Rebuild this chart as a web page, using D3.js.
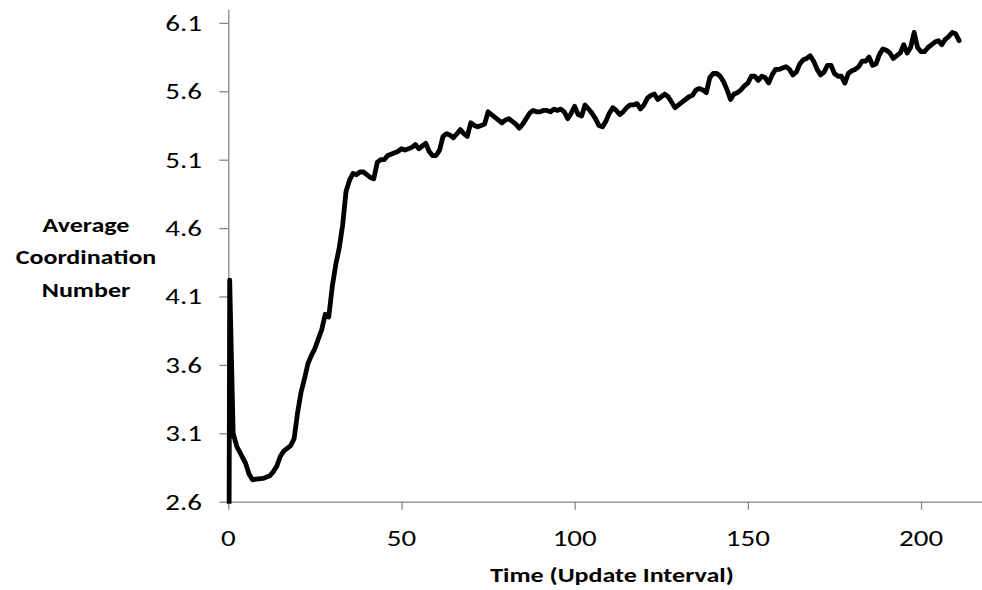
<!DOCTYPE html>
<html>
<head>
<meta charset="utf-8">
<script src="https://cdn.jsdelivr.net/npm/d3@7/dist/d3.min.js"></script>
<style>
  html, body { margin: 0; padding: 0; background: #fff; }
  svg { display: block; }
  text { font-family: Carlito, Lato, "Open Sans", sans-serif; fill: #000; }
</style>
</head>
<body>
<svg id="chart" width="982" height="590"></svg>
<script>
// ---- data ----
const times = [0,0.4,1.4,2.5,4,5,6,7,8,10,12,13,14,15,16,18,19,20,21,22,23,24,25,26,27,28,29,30,31,32,33,34,35,36,37,38,39,40,41,42,43,44,45,46,47,48,49,50,51,52,53,54,55,56,57,58,59,60,61,62,63,64,65,66,67,68,69,70,71,72,73,74,75,76,77,78,79,80,81,82,83,84,85,86,87,88,89,90,91,92,93,94,95,96,97,98,99,100,101,102,103,104,105,106,107,108,109,110,111,112,113,114,115,116,117,118,119,120,121,122,123,124,125,126,127,128,129,130,131,132,133,134,135,136,137,138,139,140,141,142,143,144,145,146,147,148,149,150,151,152,153,154,155,156,157,158,159,160,161,162,163,164,165,166,167,168,169,170,171,172,173,174,175,176,177,178,179,180,181,182,183,184,185,186,187,188,189,190,191,192,193,194,195,196,197,198,199,200,201,202,203,204,205,206,207,208,209,210,211];
const coordination = [0,4.22,3.10,3.00,2.93,2.88,2.80,2.76,2.765,2.77,2.79,2.82,2.86,2.93,2.97,3.01,3.06,3.25,3.40,3.50,3.61,3.67,3.72,3.79,3.86,3.97,3.95,4.17,4.33,4.45,4.62,4.87,4.95,5.00,4.99,5.01,5.01,4.99,4.97,4.96,5.08,5.10,5.10,5.13,5.14,5.15,5.16,5.18,5.17,5.18,5.19,5.21,5.18,5.20,5.22,5.16,5.13,5.13,5.17,5.27,5.29,5.28,5.26,5.29,5.32,5.29,5.27,5.37,5.35,5.34,5.35,5.36,5.45,5.43,5.41,5.39,5.37,5.39,5.40,5.38,5.36,5.33,5.36,5.40,5.44,5.46,5.45,5.45,5.46,5.46,5.45,5.47,5.46,5.47,5.45,5.40,5.44,5.49,5.43,5.42,5.50,5.47,5.44,5.40,5.35,5.34,5.38,5.44,5.48,5.46,5.43,5.45,5.48,5.50,5.50,5.51,5.47,5.50,5.55,5.57,5.58,5.54,5.56,5.58,5.56,5.52,5.48,5.50,5.52,5.54,5.56,5.57,5.61,5.62,5.61,5.59,5.70,5.73,5.73,5.71,5.67,5.61,5.54,5.58,5.59,5.61,5.64,5.66,5.71,5.71,5.68,5.71,5.70,5.66,5.72,5.76,5.76,5.77,5.78,5.76,5.72,5.74,5.80,5.83,5.84,5.86,5.82,5.76,5.72,5.74,5.79,5.79,5.73,5.71,5.71,5.66,5.73,5.75,5.76,5.78,5.82,5.82,5.85,5.79,5.80,5.87,5.91,5.90,5.88,5.84,5.86,5.88,5.94,5.88,5.92,6.03,5.92,5.89,5.89,5.92,5.94,5.96,5.97,5.94,5.98,6.00,6.03,6.02,5.97];
const xTicks = [0, 50, 100, 150, 200];
const yTicks = [2.6, 3.1, 3.6, 4.1, 4.6, 5.1, 5.6, 6.1];
const xDomain = [0, 217.6];
const yDomain = [2.6, 6.2];
const xTitle = "Time (Update Interval)";
const yTitleLines = ["Average", "Coordination", "Number"];

// ---- layout ----
const W = 982, H = 590;
const svg = d3.select("#chart");
const x = d3.scaleLinear().domain(xDomain).range([228.3, 982]);
const y = d3.scaleLinear().domain(yDomain).range([501.7, 9.2]);
const axisColor = "#868686";
const tickFont = 29, tickSY = 0.77;
const titleFont = 26, titleSY = 0.8;

// x axis (lines only; labels drawn below)
const gx = svg.append("g").attr("transform", `translate(0,${y(yDomain[0])})`)
  .call(d3.axisBottom(x).tickValues(xTicks).tickFormat("").tickSize(8).tickSizeOuter(0));
gx.select(".domain").attr("stroke", axisColor).attr("stroke-width", 1.3);
gx.selectAll(".tick line").attr("stroke", axisColor).attr("stroke-width", 1.3);

// y axis
const gy = svg.append("g").attr("transform", `translate(${x(xDomain[0])},0)`)
  .call(d3.axisLeft(y).tickValues(yTicks).tickFormat("").tickSize(9).tickSizeOuter(0));
gy.select(".domain").attr("stroke", axisColor).attr("stroke-width", 1.3);
gy.selectAll(".tick line").attr("stroke", axisColor).attr("stroke-width", 1.3);

// tick labels
const fmtX = d3.format("d"), fmtY = d3.format(".1f");
svg.append("g").selectAll("text").data(xTicks).join("text")
  .attr("transform", d => `translate(${x(d)},545.5) scale(1,${tickSY})`)
  .attr("text-anchor", "middle")
  .attr("font-size", tickFont)
  .text(fmtX);
svg.append("g").selectAll("text").data(yTicks).join("text")
  .attr("transform", d => `translate(202,${y(d) + 8}) scale(1,${tickSY})`)
  .attr("text-anchor", "end")
  .attr("font-size", tickFont)
  .text(fmtY);

// clip to plot area
svg.append("clipPath").attr("id", "plotclip")
  .append("rect").attr("x", x.range()[0] - 10).attr("y", 0)
  .attr("width", W).attr("height", y(yDomain[0]) + 2);

// line
const pts = times.map((t, i) => [t, coordination[i]]);
svg.append("path")
  .datum(pts)
  .attr("clip-path", "url(#plotclip)")
  .attr("fill", "none")
  .attr("stroke", "#000")
  .attr("stroke-width", 4.8)
  .attr("stroke-linejoin", "round")
  .attr("stroke-linecap", "round")
  .attr("d", d3.line().x(d => x(d[0])).y(d => y(d[1])));

// axis titles
svg.append("text")
  .attr("transform", `translate(612,582) scale(1,${titleSY})`)
  .attr("text-anchor", "middle")
  .attr("font-weight", "bold")
  .attr("font-size", titleFont)
  .text(xTitle);

svg.append("g").selectAll("text")
  .data(yTitleLines)
  .join("text")
  .attr("transform", (d, i) => `translate(86,${231.7 + i * 32.4}) scale(1,${titleSY})`)
  .attr("text-anchor", "middle")
  .attr("font-weight", "bold")
  .attr("font-size", titleFont)
  .text(d => d);
</script>
</body>
</html>
